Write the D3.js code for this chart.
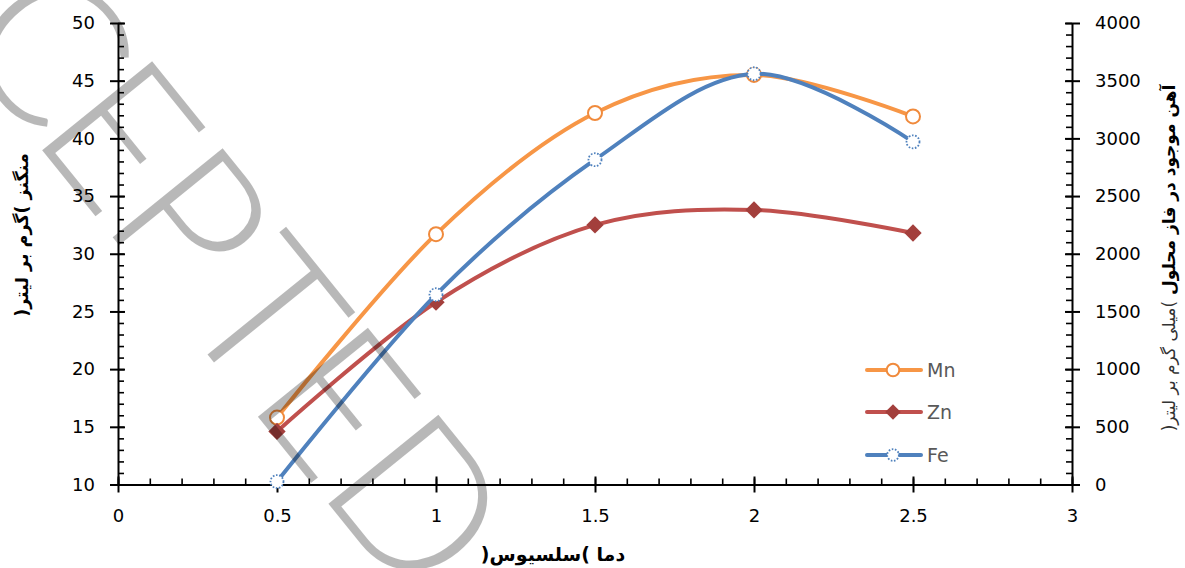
<!DOCTYPE html>
<html>
<head>
<meta charset="utf-8">
<script src="https://cdn.jsdelivr.net/npm/d3@7"></script>
<style>
  html, body { margin: 0; padding: 0; background: #fff; }
  svg { display: block; }
</style>
</head>
<body>
<svg id="chart" width="1185" height="568"></svg>
<script>
// Temperature (x) values and measured concentrations per metal
const temps = [0.5, 1, 1.5, 2, 2.5];
const mnValues = [15.8, 31.7, 42.2, 45.5, 41.9];   // left axis, g/L
const znValues = [14.6, 25.8, 32.5, 33.8, 31.8];   // left axis, g/L
const feValues = [25, 1645, 2815, 3560, 2970];     // right axis, mg/L

const xTicks = [0, 0.5, 1, 1.5, 2, 2.5, 3];
const leftTicks = [10, 15, 20, 25, 30, 35, 40, 45, 50];
const rightTicks = [0, 500, 1000, 1500, 2000, 2500, 3000, 3500, 4000];

const seriesNames = ["Mn", "Zn", "Fe"];
const xTitle = "دما )سلسیوس(";
const leftTitle = "منگنز )گرم بر لیتر(";
const rightTitleMain = "آهن موجود در فاز محلول ";
const rightTitleUnit = ")میلی گرم بر لیتر(";
const watermark = "ACCEPTED";

const svg = d3.select("#chart");
const plotLeft = 118, plotRight = 1072, plotTop = 23, plotBottom = 484.5;

const x = d3.scaleLinear().domain([0, 3]).range([plotLeft, plotRight]);
const yL = d3.scaleLinear().domain([10, 50]).range([plotBottom, plotTop]);
const yR = d3.scaleLinear().domain([0, 4000]).range([plotBottom, plotTop]);

const tickFont = "'DejaVu Sans', sans-serif";
const arabicFont = "'DejaVu Sans', 'Noto Sans', sans-serif";

function styleAxis(g) {
  g.select(".domain").attr("stroke", "#000").attr("stroke-width", 2);
  g.selectAll(".tick line").attr("stroke", "#000").attr("stroke-width", 2);
  g.selectAll(".tick text").attr("fill", "#000")
    .style("font-family", tickFont).style("font-size", "18px");
}

function styleMinor(g) {
  g.select(".domain").remove();
  g.selectAll("line").attr("stroke", "#000").attr("stroke-width", 1.6);
}

// Minor ticks (inside only)
svg.append("g").attr("transform", `translate(0,${plotBottom})`)
  .call(d3.axisBottom(x).tickValues(d3.range(0, 31).map(i => i / 10)).tickSize(-6).tickFormat(""))
  .call(styleMinor);
svg.append("g").attr("transform", `translate(${plotLeft},0)`)
  .call(d3.axisLeft(yL).tickValues(d3.range(10, 51)).tickSize(-6).tickFormat(""))
  .call(styleMinor);
svg.append("g").attr("transform", `translate(${plotRight},0)`)
  .call(d3.axisRight(yR).tickValues(d3.range(0, 4001, 100)).tickSize(-6).tickFormat(""))
  .call(styleMinor);

// Major axes (ticks cross the axis line)
svg.append("g").attr("transform", `translate(0,${plotBottom})`)
  .call(d3.axisBottom(x).tickValues(xTicks).tickSize(8).tickPadding(17).tickSizeOuter(0).tickFormat(d => String(d)))
  .call(styleAxis)
  .call(g => g.selectAll(".tick line").attr("y1", -8));
svg.append("g").attr("transform", `translate(${plotLeft},0)`)
  .call(d3.axisLeft(yL).tickValues(leftTicks).tickSize(8).tickPadding(15).tickSizeOuter(0).tickFormat(d3.format("d")))
  .call(styleAxis)
  .call(g => g.selectAll(".tick line").attr("x1", 7));
svg.append("g").attr("transform", `translate(${plotRight},0)`)
  .call(d3.axisRight(yR).tickValues(rightTicks).tickSize(8).tickPadding(15).tickSizeOuter(0).tickFormat(d3.format("d")))
  .call(styleAxis)
  .call(g => g.selectAll(".tick line").attr("x1", -7));

// Series
const series = [
  { name: "Mn", values: mnValues, y: yL, color: "#F79646", marker: "circle" },
  { name: "Zn", values: znValues, y: yL, color: "#C0504D", marker: "diamond" },
  { name: "Fe", values: feValues, y: yR, color: "#4F81BD", marker: "dotted" }
];

const line = d3.line().curve(d3.curveCardinal.tension(0));
const diamond = d3.symbol().type(d3.symbolSquare);

function drawMarker(g, s, cx, cy, scale) {
  if (s.marker === "circle") {
    g.append("circle").attr("cx", cx).attr("cy", cy).attr("r", 7 * scale)
      .attr("fill", "#fff").attr("stroke", "#F08A3C").attr("stroke-width", 2);
  } else if (s.marker === "diamond") {
    g.append("path").attr("d", diamond.size(150 * scale * scale)())
      .attr("transform", `translate(${cx},${cy}) rotate(45)`)
      .attr("fill", "#A33F3C");
  } else {
    g.append("circle").attr("cx", cx).attr("cy", cy).attr("r", 6.5 * scale)
      .attr("fill", "#fff").attr("stroke", s.color).attr("stroke-width", 1.8)
      .attr("stroke-dasharray", "1.6 1.6");
  }
}

series.forEach(s => {
  const g = svg.append("g");
  const pts = temps.map((t, i) => [x(t), s.y(s.values[i])]);
  g.append("path").attr("d", line(pts)).attr("fill", "none")
    .attr("stroke", s.color).attr("stroke-width", 4).attr("stroke-linecap", "round");
  pts.forEach(p => drawMarker(g, s, p[0], p[1], 1));
});

// Legend
const legendY = [370, 412, 455];
series.forEach((s, i) => {
  const g = svg.append("g");
  g.append("line").attr("x1", 867).attr("x2", 921).attr("y1", legendY[i]).attr("y2", legendY[i])
    .attr("stroke", s.color).attr("stroke-width", 4).attr("stroke-linecap", "round");
  drawMarker(g, s, 893, legendY[i], 0.9);
  g.append("text").attr("x", 927).attr("y", legendY[i]).attr("dy", "0.36em")
    .attr("fill", "#595959").style("font-family", tickFont).style("font-size", "19px")
    .text(seriesNames[i]);
});

// X axis title (right-to-left)
svg.append("text")
  .attr("x", 553).attr("y", 561).attr("text-anchor", "middle")
  .style("font-family", arabicFont).style("font-size", "19px").style("font-weight", "bold")
  .attr("fill", "#000")
  .text("\u200F" + xTitle + "\u200F");

// Left axis title
svg.append("text")
  .attr("transform", "translate(28,235) rotate(-90)")
  .attr("text-anchor", "middle")
  .style("font-family", arabicFont).style("font-size", "17.5px").style("font-weight", "bold")
  .attr("fill", "#000")
  .text("\u200F" + leftTitle + "\u200F");

// Right axis title
const rt = svg.append("text")
  .attr("transform", "translate(1175,258) rotate(-90)")
  .attr("text-anchor", "middle")
  .style("font-family", arabicFont).style("font-size", "17px")
  .attr("fill", "#000");
rt.append("tspan").style("font-weight", "bold").text("\u200F" + rightTitleMain);
rt.append("tspan").style("font-weight", "normal").attr("fill", "#333").text(rightTitleUnit + "\u200F");

// Diagonal watermark
const wmOffsets = [-379, -246, -123, 0, 112, 231, 343, 455];
svg.append("text")
  .attr("transform", "translate(29,134) rotate(51)")
  .attr("x", wmOffsets.join(" "))
  .attr("y", 0)
  .style("font-family", "Lato, 'Open Sans', sans-serif")
  .style("font-weight", 300)
  .style("font-size", "200px")
  .attr("fill", "#000").attr("fill-opacity", 0.28)
  .text(watermark);
</script>
</body>
</html>
